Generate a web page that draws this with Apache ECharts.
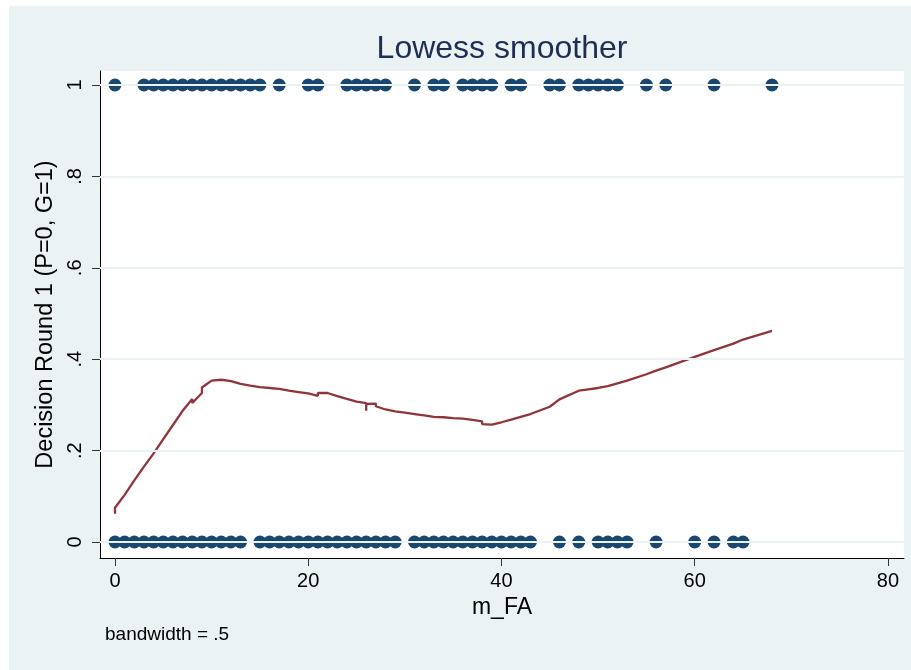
<!DOCTYPE html>
<html>
<head>
<meta charset="utf-8">
<script src="https://cdn.jsdelivr.net/npm/echarts@6/dist/echarts.min.js"></script>
<style>
  html, body { margin: 0; padding: 0; background: #ffffff; }
  #chart { width: 911px; height: 670px; }
</style>
</head>
<body>
<div id="chart"></div>
<script>
// m_FA values of subjects deciding G (=1) in round 1
const decisionOneX = [0, 3, 4, 5, 6, 7, 8, 9, 10, 11, 12, 13, 14, 15, 17, 20, 21,
  24, 25, 26, 27, 28, 31, 33, 34, 36, 37, 38, 39, 41, 42, 45, 46, 48, 49, 50, 51,
  52, 55, 57, 62, 68];

// m_FA values of subjects deciding P (=0) in round 1
const decisionZeroX = [0, 1, 2, 3, 4, 5, 6, 7, 8, 9, 10, 11, 12, 13,
  15, 16, 17, 18, 19, 20, 21, 22, 23, 24, 25, 26, 27, 28, 29,
  31, 32, 33, 34, 35, 36, 37, 38, 39, 40, 41, 42, 43,
  46, 48, 50, 51, 52, 53, 56, 60, 62, 64, 65];

// Lowess fit (bandwidth .5), evaluated at the observed m_FA values
const lowessX = [0, 0, 1, 2, 3, 4, 5, 6, 7, 8, 8, 9, 9, 10, 11, 12, 13, 14, 15, 16,
  17, 18, 19, 20, 21, 21, 22, 23, 24, 25, 26, 26, 26, 27, 27, 28, 29, 30, 31, 32,
  33, 34, 35, 36, 37, 38, 38, 39, 40, 41, 42, 43, 45, 46, 48, 49, 50, 51, 52, 53,
  55, 56, 57, 60, 62, 64, 65, 68];
const lowessY = [0.062, 0.075, 0.103, 0.135, 0.165, 0.194, 0.225, 0.256, 0.287,
  0.313, 0.304, 0.326, 0.338, 0.353, 0.355, 0.352, 0.346, 0.342, 0.339, 0.337,
  0.335, 0.331, 0.328, 0.325, 0.320, 0.326, 0.326, 0.319, 0.313, 0.307, 0.304,
  0.287, 0.302, 0.303, 0.297, 0.290, 0.286, 0.283, 0.280, 0.277, 0.274, 0.273,
  0.271, 0.270, 0.267, 0.264, 0.258, 0.257, 0.262, 0.268, 0.274, 0.280, 0.296,
  0.312, 0.331, 0.334, 0.337, 0.341, 0.347, 0.353, 0.367, 0.375, 0.382, 0.405,
  0.420, 0.434, 0.443, 0.462];

const xTickValues = [0, 20, 40, 60, 80];
const yTickValues = [0, 0.2, 0.4, 0.6, 0.8, 1];
const yTickLabels = ['0', '.2', '.4', '.6', '.8', '1'];

const FONT = '"Liberation Sans", Arial, Helvetica, sans-serif';
const NAVY = '#1a476f';
const MAROON = '#90353b';
const BG = '#eaf2f3';

const chart = echarts.init(document.getElementById('chart'), null, { renderer: 'canvas' });

const yLabelFor = v => {
  for (let i = 0; i < yTickValues.length; i++) {
    if (Math.abs(yTickValues[i] - v) < 1e-6) return yTickLabels[i];
  }
  return '';
};

chart.setOption({
  backgroundColor: '#ffffff',
  animation: false,
  textStyle: { fontFamily: FONT },
  graphic: [
    {
      type: 'rect', z: -10, silent: true,
      shape: { x: 9, y: 6, width: 902, height: 664 },
      style: { fill: BG }
    },
    {
      type: 'text', z: 10, silent: true,
      x: 502, y: 49,
      style: {
        text: 'Lowess smoother', fill: '#1e2d55', font: '32px ' + FONT,
        textAlign: 'center', textVerticalAlign: 'middle'
      }
    },
    {
      type: 'text', z: 10, silent: true,
      x: 105, y: 635,
      style: {
        text: 'bandwidth = .5', fill: '#000000', font: '19px ' + FONT,
        textAlign: 'left', textVerticalAlign: 'middle'
      }
    }
  ],
  grid: {
    left: 100, top: 71, width: 804, height: 487,
    show: true, backgroundColor: '#ffffff', borderWidth: 0
  },
  xAxis: {
    type: 'value', min: -1.55, max: 81.66,
    name: 'm_FA', nameLocation: 'middle', nameGap: 35,
    nameTextStyle: { fontSize: 23, color: '#000', fontFamily: FONT },
    axisLine: { show: true, onZero: false, lineStyle: { color: '#000', width: 1 } },
    axisTick: { show: true, customValues: xTickValues, length: 8, lineStyle: { color: '#333', width: 1 } },
    axisLabel: { customValues: xTickValues, fontSize: 20, color: '#000', margin: 13, fontFamily: FONT },
    splitLine: { show: false }
  },
  yAxis: {
    type: 'value', min: -0.035, max: 1.0306,
    name: 'Decision Round 1 (P=0, G=1)', nameLocation: 'middle', nameGap: 38,
    nameRotate: 90,
    nameTextStyle: { fontSize: 23.5, color: '#000', fontFamily: FONT },
    axisLine: { show: true, onZero: false, lineStyle: { color: '#000', width: 1 } },
    axisTick: { show: true, customValues: yTickValues, length: 8, lineStyle: { color: '#333', width: 1 } },
    axisLabel: {
      customValues: yTickValues, rotate: 90, fontSize: 20, color: '#000', margin: 15,
      fontFamily: FONT, formatter: v => yLabelFor(v)
    },
    splitLine: { show: false }
  },
  series: [
    {
      // horizontal grid lines at the labelled y values
      type: 'line', data: [], z: 1, silent: true,
      markLine: {
        silent: true, symbol: 'none', animation: false,
        label: { show: false },
        lineStyle: { color: BG, width: 2, type: 'solid' },
        data: yTickValues.map(v => ({ yAxis: v }))
      }
    },
    {
      name: 'G', type: 'scatter', z: 3,
      symbol: 'circle', symbolSize: 13,
      itemStyle: { color: NAVY, opacity: 1 },
      data: decisionOneX.map(x => [x, 1])
    },
    {
      name: 'P', type: 'scatter', z: 3,
      symbol: 'circle', symbolSize: 13,
      itemStyle: { color: NAVY, opacity: 1 },
      data: decisionZeroX.map(x => [x, 0])
    },
    {
      name: 'lowess', type: 'line', z: 4,
      showSymbol: false, symbol: 'none',
      lineStyle: { color: MAROON, width: 2.3 },
      data: lowessX.map((x, i) => [x, lowessY[i]])
    }
  ]
});
</script>
</body>
</html>
